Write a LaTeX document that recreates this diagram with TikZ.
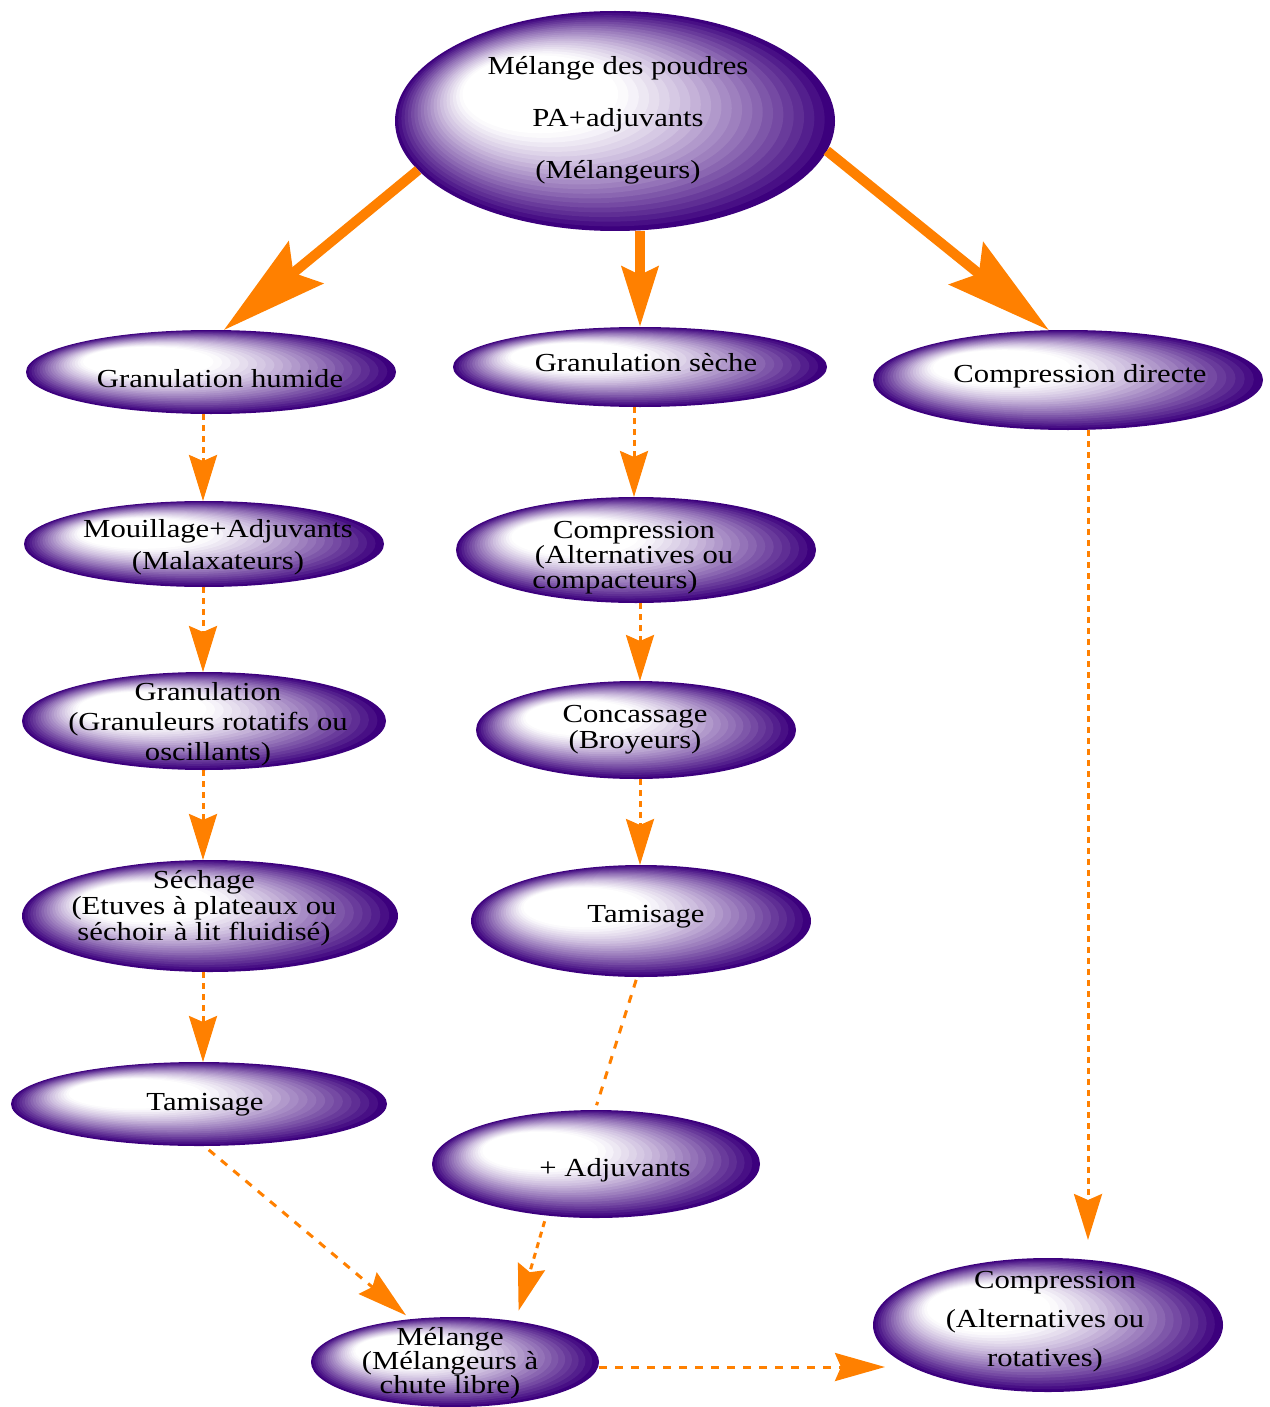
\documentclass[tikz,border=0pt]{standalone}
\usepackage{fontspec}
\setmainfont{Liberation Serif}[FakeStretch=1.18]
\usetikzlibrary{shapes.geometric,arrows.meta}
\definecolor{edgec}{RGB}{60,0,125}
\definecolor{orng}{RGB}{255,128,0}
\tikzset{
  blob/.style={ellipse, inner sep=0pt, outer sep=0pt, draw=none},
  lbl/.style={font=\fontsize{13pt}{#1}\selectfont, align=center, inner sep=0pt, text=black},
  thickarr/.style={draw=orng, line width=5pt, -{Stealth[length=53pt,width=27pt,inset=8pt]}},
  thickmid/.style={draw=orng, line width=5pt, -{Stealth[length=30pt,width=18pt,inset=4pt]}},
  dotarr/.style={draw=orng, line width=1.5pt, dash pattern=on 3pt off 2.5pt, -{Stealth[length=23pt,width=14pt,inset=3pt]}},
  dasharr/.style={draw=orng, line width=1.5pt, dash pattern=on 4pt off 4pt, -{Stealth[length=25pt,width=14pt,inset=3pt]}},
  dashplain/.style={draw=orng, line width=1.5pt, dash pattern=on 4pt off 4pt}
}
\newcommand\bub[5]{%
  \foreach \k in {0,...,26}{%
    \pgfmathsetmacro\bs{\k/26}%
    \pgfmathtruncatemacro\bpc{round(100*(max(0,1-\k/21))^1.25)}%
    \pgfmathsetmacro\bx{#2-0.42*#4*\bs}%
    \pgfmathsetmacro\by{#3-0.3*#5*\bs}%
    \pgfmathsetmacro\bra{0.5*#4*(1-0.8*\bs)}%
    \pgfmathsetmacro\brb{0.5*#5*(1-0.8*\bs)}%
    \fill[edgec!\bpc!white] (\bx,\by) ellipse [x radius=\bra pt, y radius=\brb pt];
  }%
  \node[blob, minimum width=#4pt, minimum height=#5pt] (#1) at (#2,#3) {};%
}
\begin{document}
\begin{tikzpicture}[x=0.5pt,y=-0.5pt]
\useasboundingbox (0,0) rectangle (1269,1407);
% ellipses
\bub{top}{615}{121}{220}{110}
\bub{gh}{211}{372}{185}{42}
\bub{gs}{640}{367}{187}{40}
\bub{cd}{1068}{380}{195}{50}
\bub{mou}{204}{544}{180}{43}
\bub{comp}{636}{550}{180}{53}
\bub{gran}{204}{721}{182}{49}
\bub{conc}{636}{730}{160}{49}
\bub{sech}{210}{916}{188}{56}
\bub{tam2}{641}{921}{170}{56}
\bub{tam1}{199}{1104}{188}{42}
\bub{adj}{596}{1164}{164}{54}
\bub{mel}{455}{1362}{144}{45}
\bub{cr}{1048}{1325}{175}{67}
% labels
\node[lbl=26pt] (top-t) at (618,120) {Mélange des poudres\\PA+adjuvants\\(Mélangeurs)};
\node[lbl=14pt] (gh-t) at (220,379) {Granulation humide};
\node[lbl=14pt] (gs-t) at (646,363) {Granulation sèche};
\node[lbl=14pt] (cd-t) at (1080,376) {Compression directe};
\node[lbl=16pt] (mou-t) at (218,547) {Mouillage+Adjuvants\\(Malaxateurs)};
\node[lbl=12.5pt] (comp-t) at (634,558) {Compression\\(Alternatives ou\\compacteurs)\hspace*{19pt}};
\node[lbl=15pt] (gran-t) at (208,724) {Granulation\\(Granuleurs rotatifs ou\\oscillants)};
\node[lbl=10.5pt] (conc-t) at (635,730) {Concassage\\(Broyeurs)};
\node[lbl=11.5pt] (sech-t) at (204,908) {Séchage\\(Etuves à plateaux ou\\séchoir à lit fluidisé)};
\node[lbl=14pt] (tam2-t) at (646,917) {Tamisage};
\node[lbl=14pt] (tam1-t) at (205,1105) {Tamisage};
\node[lbl=14pt] (adj-t) at (615,1170) {+ Adjuvants};
\node[lbl=12pt] (mel-t) at (450,1363) {Mélange\\(Mélangeurs à\\chute libre)};
\node[lbl=19.5pt] (cr-t) at (1045,1322) {\hspace*{10pt}Compression\\(Alternatives ou\\rotatives)};
% column helpers
\coordinate (cL) at (203,0);
\coordinate (cM1) at (634,0);
\coordinate (cM2) at (640,0);
\coordinate (cR) at (1088,0);
\coordinate (rowB) at (0,1367);
% connectors
\draw[thickarr] (top.194) -- (gh.73);
\draw[thickmid] (top.south -| cM2) -- (gs.north -| cM2);
\draw[thickarr] (top.352) -- (cd.111);
\draw[dotarr] (gh.south -| cL) -- (mou.north -| cL);
\draw[dotarr] (mou.south -| cL) -- (gran.north -| cL);
\draw[dotarr] (gran.south -| cL) -- (sech.north -| cL);
\draw[dotarr] (sech.south -| cL) -- (tam1.north -| cL);
\draw[dotarr] (gs.south -| cM1) -- (comp.north -| cM1);
\draw[dotarr] (comp.south -| cM2) -- (conc.north -| cM2);
\draw[dotarr] (conc.south -| cM2) -- (tam2.north -| cM2);
\draw[dotarr, shorten >=9pt] (cd.south -| cR) -- (cr.north -| cR);
\draw[dashplain, shorten <=1.5pt, shorten >=2.5pt] (tam2.266) -- (adj.91);
\draw[dasharr, shorten <=3pt, shorten >=3pt] (tam1.277) -- (mel.136);
\draw[dotarr, shorten <=3pt, shorten >=5.5pt] (adj.226) -- (mel.34);
\draw[dasharr, shorten >=-6pt] (mel.east |- rowB) -- (cr.west |- rowB);
\end{tikzpicture}
\end{document}
